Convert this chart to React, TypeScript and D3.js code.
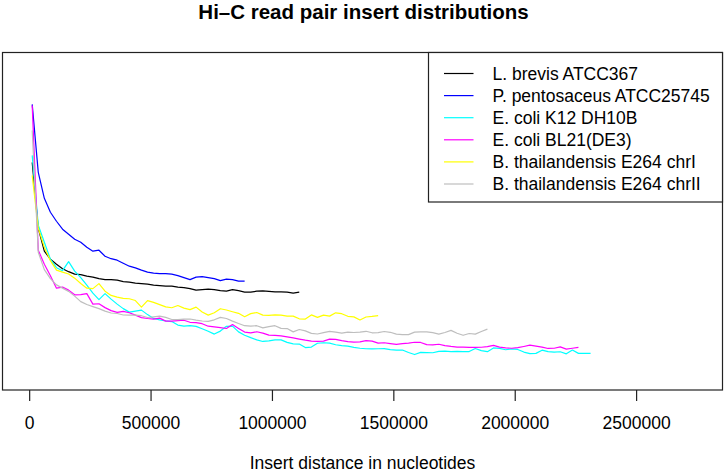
import React, { useRef, useEffect } from 'react';
import * as d3 from 'd3';

// insert distances are binned; first bin centre and bin width in bp
const firstBin = 12500;
const binWidth = 25000;

const seriesNames = [
  'L. brevis ATCC367',
  'P. pentosaceus ATCC25745',
  'E. coli K12 DH10B',
  'E. coli BL21(DE3)',
  'B. thailandensis E264 chrI',
  'B. thailandensis E264 chrII',
];
const seriesColors = ['#000000', '#0000ff', '#00ffff', '#ff00ff', '#ffff00', '#bebebe'];

// relative read pair frequency per bin (arbitrary units)
const brevis = [2.28, 1.62, 1.39, 1.31, 1.26, 1.215, 1.185, 1.16, 1.155, 1.14, 1.13, 1.115, 1.105, 1.105, 1.10,
  1.085, 1.08, 1.07, 1.065, 1.06, 1.05, 1.045, 1.04, 1.04, 1.03, 1.025, 1.015, 1.00, 1.005, 1.01, 1.005, 0.995,
  0.99, 1.005, 0.995, 0.98, 0.98, 0.99, 0.992, 0.987, 0.983, 0.983, 0.98, 0.97, 0.98];
const pentosaceus = [2.86, 2.18, 1.92, 1.78, 1.69, 1.61, 1.56, 1.51, 1.48, 1.43, 1.39, 1.40, 1.34, 1.315, 1.30,
  1.27, 1.24, 1.223, 1.20, 1.18, 1.17, 1.165, 1.165, 1.16, 1.145, 1.125, 1.105, 1.13, 1.135, 1.125, 1.115, 1.095,
  1.11, 1.105, 1.09, 1.09];
const coliK12 = [2.35, 1.65, 1.48, 1.31, 1.225, 1.195, 1.285, 1.19, 1.125, 1.05,
  0.97, 0.905, 0.965, 0.91, 0.86, 0.815, 0.78, 0.79, 0.80, 0.755,
  0.717, 0.703, 0.693, 0.685, 0.65, 0.64, 0.645, 0.637, 0.613, 0.588,
  0.56, 0.59, 0.638, 0.64, 0.582, 0.548, 0.524, 0.502, 0.486, 0.492,
  0.502, 0.502, 0.477, 0.462, 0.46, 0.425, 0.43, 0.468, 0.473, 0.469,
  0.453, 0.445, 0.439, 0.427, 0.418, 0.413, 0.411, 0.413, 0.414, 0.405,
  0.40, 0.40, 0.375, 0.355, 0.377, 0.375, 0.373, 0.387, 0.389, 0.385,
  0.387, 0.385, 0.385, 0.416, 0.395, 0.384, 0.421, 0.417, 0.403, 0.412,
  0.406, 0.38, 0.365, 0.367, 0.399, 0.384, 0.379, 0.383, 0.362, 0.40,
  0.367, 0.367, 0.367];
const coliBL21 = [2.85, 1.40, 1.26, 1.145, 1.02, 1.03, 1.00, 0.953, 0.955, 0.965,
  0.86, 0.864, 0.825, 0.795, 0.778, 0.787, 0.774, 0.75, 0.725, 0.716,
  0.71, 0.72, 0.69, 0.69, 0.695, 0.699, 0.678, 0.675, 0.664, 0.639,
  0.632, 0.625, 0.616, 0.655, 0.617, 0.58, 0.573, 0.583, 0.57, 0.55,
  0.548, 0.542, 0.532, 0.522, 0.51, 0.499, 0.49, 0.487, 0.489, 0.509,
  0.507, 0.495, 0.485, 0.48, 0.482, 0.495, 0.49, 0.469, 0.473, 0.465,
  0.457, 0.464, 0.47, 0.478, 0.476, 0.455, 0.452, 0.458, 0.445, 0.436,
  0.43, 0.429, 0.427, 0.427, 0.428, 0.434, 0.447, 0.43, 0.422, 0.418,
  0.424, 0.436, 0.449, 0.44, 0.43, 0.416, 0.418, 0.432, 0.409, 0.418, 0.427];
const thaiChrI = [2.15, 1.62, 1.43, 1.295, 1.20, 1.18, 1.162, 1.12, 1.066, 1.02,
  1.015, 1.065, 0.99, 0.947, 0.93, 0.917, 0.914, 0.896, 0.83, 0.895,
  0.877, 0.855, 0.833, 0.824, 0.846, 0.82, 0.805, 0.83, 0.781, 0.75,
  0.774, 0.814, 0.801, 0.784, 0.768, 0.734, 0.765, 0.776, 0.75, 0.748,
  0.753, 0.749, 0.74, 0.74, 0.713, 0.71, 0.752, 0.727, 0.75, 0.74,
  0.773, 0.764, 0.738, 0.732, 0.701, 0.731, 0.737, 0.745];
const thaiChrII = [2.60, 1.38, 1.205, 1.115, 1.053, 1.02, 0.988, 0.94, 0.885, 0.856,
  0.835, 0.815, 0.79, 0.771, 0.766, 0.751, 0.75, 0.749, 0.744, 0.726,
  0.733, 0.74, 0.727, 0.706, 0.704, 0.71, 0.711, 0.699, 0.691, 0.688,
  0.703, 0.727, 0.716, 0.69, 0.666, 0.644, 0.64, 0.644, 0.622, 0.635,
  0.644, 0.617, 0.615, 0.582, 0.606, 0.592, 0.567, 0.561, 0.574, 0.587,
  0.579, 0.57, 0.579, 0.576, 0.579, 0.588, 0.573, 0.574, 0.586, 0.578,
  0.56, 0.555, 0.555, 0.58, 0.583, 0.583, 0.574, 0.56, 0.576, 0.597,
  0.568, 0.548, 0.566, 0.56, 0.586, 0.61];

const xTicks = [0, 500000, 1000000, 1500000, 2000000, 2500000];
const xLim = [0, 2746000];
const yLim = [0, 3.38];

const font = "'Liberation Sans', Arial, Helvetica, sans-serif";

const App = () => {
  const svgRef = useRef(null);
  const width = 726;
  const height = 473;
  const plot = { left: 2.5, right: 722.5, top: 52.5, bottom: 390 };

  useEffect(() => {
    const svg = d3.select(svgRef.current);
    svg.selectAll('*').remove();

    const pad = (xLim[1] - xLim[0]) * 0.04;
    const x = d3.scaleLinear()
      .domain([xLim[0] - pad, xLim[1] + pad])
      .range([plot.left, plot.right]);
    const y = d3.scaleLinear()
      .domain(yLim)
      .range([plot.bottom, plot.top]);

    const allSeries = [brevis, pentosaceus, coliK12, coliBL21, thaiChrI, thaiChrII];

    const line = d3.line<number>()
      .x((d, i) => x(firstBin + i * binWidth))
      .y(d => y(d));

    svg.append('g')
      .selectAll('path')
      .data(allSeries)
      .enter()
      .append('path')
      .attr('d', d => line(d))
      .attr('fill', 'none')
      .attr('stroke', (d, i) => seriesColors[i])
      .attr('stroke-width', 1.2)
      .attr('stroke-linejoin', 'round');

    // plot frame
    svg.append('rect')
      .attr('x', plot.left)
      .attr('y', plot.top)
      .attr('width', plot.right - plot.left)
      .attr('height', plot.bottom - plot.top)
      .attr('fill', 'none')
      .attr('stroke', '#222')
      .attr('stroke-width', 1.2);

    // x axis, R style
    const axis = svg.append('g')
      .attr('transform', `translate(0,${plot.bottom})`)
      .call(d3.axisBottom(x).tickValues(xTicks).tickFormat(d3.format('d')).tickSize(11).tickPadding(16));
    axis.select('.domain').remove();
    axis.selectAll('line').attr('stroke', '#222').attr('stroke-width', 1.2);
    axis.selectAll('text')
      .attr('font-family', font)
      .attr('font-size', 17.5)
      .attr('fill', '#000');

    svg.append('text')
      .attr('x', (plot.left + plot.right) / 2)
      .attr('y', 469)
      .attr('text-anchor', 'middle')
      .attr('font-family', font)
      .attr('font-size', 17.5)
      .text('Insert distance in nucleotides');

    svg.append('text')
      .attr('x', (plot.left + plot.right) / 2 + 1)
      .attr('y', 18.5)
      .attr('text-anchor', 'middle')
      .attr('font-family', font)
      .attr('font-size', 20.5)
      .attr('font-weight', 'bold')
      .text('Hi\u2013C read pair insert distributions');

    // legend
    const legend = svg.append('g');
    legend.append('rect')
      .attr('x', 428.5)
      .attr('y', plot.top)
      .attr('width', plot.right - 428.5)
      .attr('height', 202 - plot.top)
      .attr('fill', 'white')
      .attr('stroke', '#222')
      .attr('stroke-width', 1.2);

    const rowY = d3.scaleLinear().domain([0, 5]).range([73.5, 184]);
    const rows = legend.selectAll('g.row')
      .data(seriesNames)
      .enter()
      .append('g')
      .attr('class', 'row')
      .attr('transform', (d, i) => `translate(0,${rowY(i)})`);
    rows.append('line')
      .attr('x1', 444)
      .attr('x2', 473.5)
      .attr('stroke', (d, i) => seriesColors[i])
      .attr('stroke-width', 1.2);
    rows.append('text')
      .attr('x', 492.5)
      .attr('y', 6.3)
      .attr('font-family', font)
      .attr('font-size', 17.5)
      .text(d => d);
  }, []);

  return (
    <svg
      ref={svgRef}
      width={width}
      height={height}
      style={{ position: 'absolute', left: 0, top: 0, background: 'white' }}
    />
  );
};

export default App;
